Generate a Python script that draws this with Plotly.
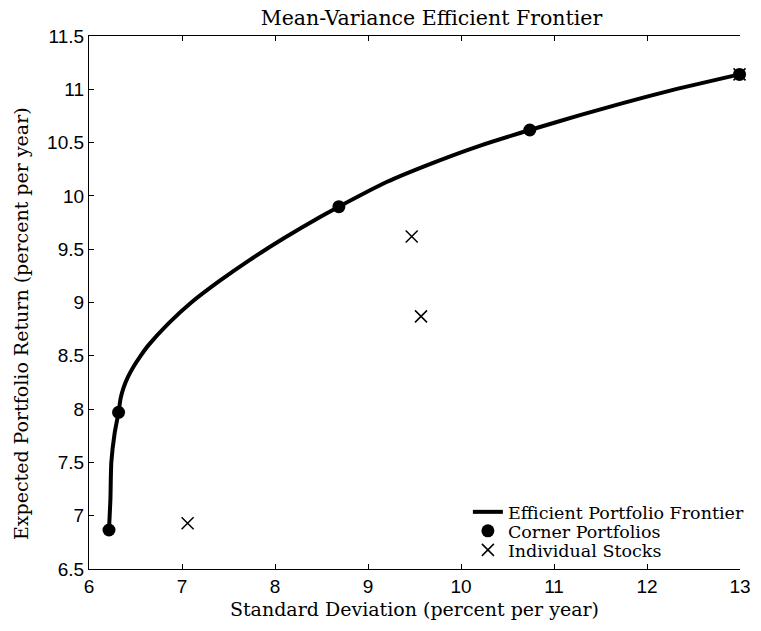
import plotly.graph_objects as go

# Efficient frontier (std dev, expected return), percent per year
frontier_sd = [6.215, 6.23, 6.24, 6.275, 6.318, 6.34, 6.371, 6.418, 6.48, 6.555, 6.64,
               6.85, 7.10, 7.40, 7.73, 8.09, 8.48, 8.687, 9.2, 9.7, 10.2, 10.74,
               11.27, 11.73, 12.26, 12.995]
frontier_ret = [6.866, 7.147, 7.50, 7.77, 7.97, 8.1, 8.2, 8.3, 8.4, 8.5, 8.6,
                8.8, 9.0, 9.2, 9.4, 9.6, 9.8, 9.899, 10.13, 10.31, 10.47, 10.618,
                10.755, 10.868, 10.99, 11.14]

corner_sd = [6.215, 6.318, 8.687, 10.74, 12.995]
corner_ret = [6.866, 7.97, 9.899, 10.618, 11.14]

stock_sd = [7.06, 9.47, 9.57, 12.995]
stock_ret = [6.93, 9.62, 8.87, 11.14]

x_ticks = [6, 7, 8, 9, 10, 11, 12, 13]
y_ticks = [6.5, 7, 7.5, 8, 8.5, 9, 9.5, 10, 10.5, 11, 11.5]
y_ticktext = ["6.5", "7", "7.5", "8", "8.5", "9", "9.5", "10", "10.5", "11", "11.5"]

serif = "DejaVu Serif"
sans = "Liberation Sans"

fig = go.Figure()
fig.add_trace(go.Scatter(x=frontier_sd, y=frontier_ret, mode="lines",
                         line=dict(color="black", width=4, shape="spline", smoothing=0.6),
                         name="Efficient Portfolio Frontier", cliponaxis=False,
                         legend="legend"))
fig.add_trace(go.Scatter(x=corner_sd, y=corner_ret, mode="markers",
                         marker=dict(color="black", size=13, symbol="circle"),
                         name="Corner Portfolios", cliponaxis=False, legend="legend2"))
fig.add_trace(go.Scatter(x=stock_sd, y=stock_ret, mode="markers",
                         marker=dict(color="black", size=12, symbol="x-thin",
                                     line=dict(color="black", width=1.5)),
                         name="Individual Stocks", cliponaxis=False, legend="legend3"))

leg_common = dict(xanchor="left", yanchor="middle", bgcolor="rgba(0,0,0,0)",
                  font=dict(family=serif, size=17.5, color="black"), itemwidth=30)

fig.update_layout(
    width=761, height=631,
    margin=dict(l=89, r=11, t=36, b=62),
    paper_bgcolor="white", plot_bgcolor="white",
    title=dict(text="Mean-Variance Efficient Frontier", x=0.567, xanchor="center",
               y=0.971, yanchor="middle",
               font=dict(family=serif, size=20.5, color="black")),
    showlegend=True,
    legend=dict(x=0.582, y=0.107, **leg_common),
    legend2=dict(x=0.582, y=0.0713, **leg_common),
    legend3=dict(x=0.582, y=0.0356, **leg_common),
    xaxis=dict(range=[6, 13], tickvals=x_ticks,
               ticks="inside", ticklen=5, tickcolor="black", showline=True,
               linecolor="black", linewidth=1.2, mirror="ticks", showgrid=False,
               zeroline=False,
               tickfont=dict(family=sans, size=19, color="black"),
               title=dict(text="Standard Deviation (percent per year)", standoff=6,
                          font=dict(family=serif, size=19, color="black"))),
    yaxis=dict(range=[6.5, 11.5], tickvals=y_ticks, ticktext=y_ticktext,
               ticks="inside", ticklen=5, tickcolor="black", showline=True,
               linecolor="black", linewidth=1.2, mirror=False, showgrid=False,
               zeroline=False,
               tickfont=dict(family=sans, size=19, color="black")),
    annotations=[dict(text="Expected Portfolio Return (percent per year)",
                      xref="paper", yref="paper", x=-0.104, y=0.46,
                      xanchor="center", yanchor="middle", textangle=-90,
                      showarrow=False, font=dict(family=serif, size=19, color="black"))],
)

fig.write_html("out.html")
